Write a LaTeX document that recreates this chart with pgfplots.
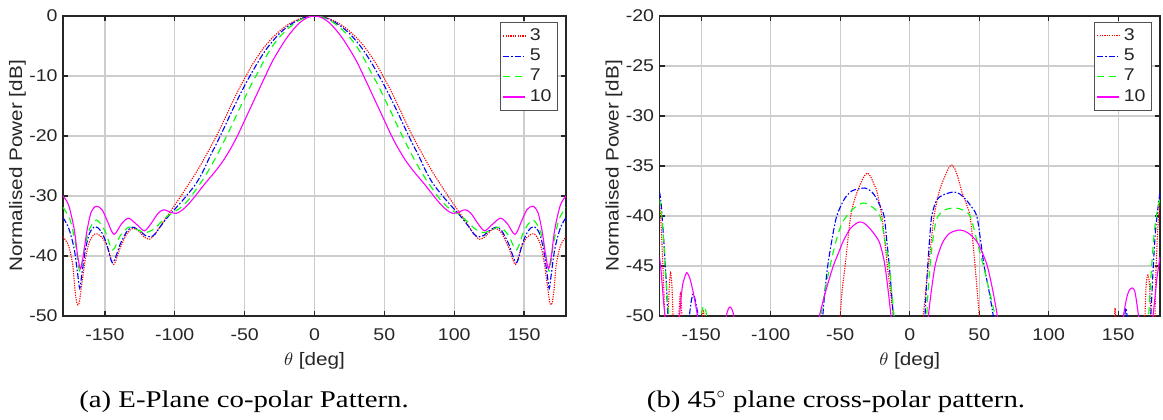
\documentclass[border=0pt]{standalone}
\usepackage{pgfplots}
\pgfplotsset{compat=1.18}
\usepackage{fontspec}
\setmainfont{Liberation Serif}
\newfontfamily\chartfont{Liberation Sans}[FakeStretch=1.15]
\newfontfamily\capfontfam{Liberation Serif}[FakeStretch=1.2]
\newcommand\tickfont{\chartfont\fontsize{8.5pt}{10pt}\selectfont}
\newcommand\labfont{\chartfont\fontsize{9pt}{10.5pt}\selectfont}
\newcommand\capfont{\capfontfam\fontsize{12pt}{14pt}\selectfont}
\definecolor{axgray}{RGB}{38,38,38}
\definecolor{gridgray}{RGB}{205,205,205}
\definecolor{mred}{RGB}{255,0,0}
\definecolor{mblue}{RGB}{0,0,255}
\definecolor{mgreen}{RGB}{0,255,0}
\definecolor{mmag}{RGB}{255,0,255}
\pgfplotsset{
  mstyle/.style={
    scale only axis, width=251.5pt, height=150pt,
    xmin=-180, xmax=180,
    xtick={-150,-100,-50,0,50,100,150},
    xticklabels={-150,-100,-50,0,50,100,150},
    grid=major,
    major grid style={gridgray, line width=0.7pt},
    axis line style={axgray, line width=0.6pt},
    tick style={axgray, line width=0.6pt},
    tick align=inside, major tick length=2.5pt,
    xtick pos=both, ytick pos=both,
    xticklabel style={font=\tickfont, text=axgray, anchor=north, inner sep=0pt, yshift=-6pt},
    yticklabel style={font=\tickfont, text=axgray, anchor=east, inner sep=0pt, xshift=-2.5pt},
    every axis x label/.style={at={([yshift=-22.5pt]axis description cs:0.5,0)}, anchor=center, font=\labfont, text=axgray},
    every axis y label/.style={at={([xshift=-22.75pt]axis description cs:0,0.5)}, anchor=center, rotate=90, font=\labfont, text=axgray},
    xlabel={$\theta$ [deg]},
    ylabel={Normalised Power [dB]},
    legend style={at={([xshift=-4pt,yshift=-3pt]axis description cs:1,1)}, anchor=north east,
      draw=axgray!80, fill=white, font=\tickfont, text=axgray, line width=0.5pt,
      inner xsep=1pt, inner ysep=1pt, row sep=-1.2pt,
      legend cell align=left},
    legend image code/.code={\draw[#1] (0pt,0pt) -- (11pt,0pt);},
    unbounded coords=jump,
  },
  s3/.style={mred, line width=0.55pt, dash pattern=on 0.6pt off 0.6pt},
  s5/.style={mblue, line width=0.55pt, dash pattern=on 3pt off 1pt on 0.8pt off 1pt},
  s7/.style={mgreen, line width=0.55pt, dash pattern=on 3.5pt off 2.5pt},
  s10/.style={mmag, line width=0.55pt},
}
\begin{document}
\begin{tikzpicture}
\useasboundingbox (0,0) rectangle (581.5pt,209.5pt);
% ---------------- (a) ----------------
\begin{axis}[mstyle, at={(31.5pt,51.5pt)}, anchor=south west,
  ymin=-50, ymax=0, ytick={-50,-40,-30,-20,-10,0},
  yticklabels={-50,-40,-30,-20,-10,0}]
\addplot[s3, smooth] coordinates {
(-180,-36.8) (-176,-38.3) (-173,-41.5) (-171.5,-45.5) (-170,-47.9) (-168.5,-47.9) (-167,-45.5) (-164,-40.5) (-161,-37.6) (-157,-36.3) (-152,-36.9) (-148,-38.6) (-143.8,-41.4) (-139,-38.6) (-134,-36.2) (-130,-35.4) (-126,-35.8) (-122,-36.8) (-118,-37.2) (-114,-36.3) (-110,-34.9) (-105,-33.2) (-100,-31.5) (-95,-29.8) (-90,-28.0) (-85,-26.2) (-80,-24.2) (-75,-22.1) (-70,-19.9) (-65,-17.5) (-60,-15.0) (-55,-12.6) (-50,-10.4) (-45,-8.3) (-40,-6.5) (-35,-4.9) (-30,-3.6) (-25,-2.5) (-20,-1.6) (-15,-0.9) (-10,-0.4) (-5,-0.1)
(0,0)
(5,-0.1) (10,-0.4) (15,-0.9) (20,-1.6) (25,-2.5) (30,-3.6) (35,-4.9) (40,-6.5) (45,-8.3) (50,-10.4) (55,-12.6) (60,-15.0) (65,-17.5) (70,-19.9) (75,-22.1) (80,-24.2) (85,-26.2) (90,-28.0) (95,-29.8) (100,-31.5) (105,-33.2) (110,-34.9) (114,-36.3) (118,-37.2) (122,-36.8) (126,-35.8) (130,-35.4) (134,-36.2) (139,-38.6) (143.8,-41.4) (148,-38.6) (152,-36.9) (157,-36.3) (161,-37.6) (164,-40.5) (167,-45.5) (168.5,-47.9) (170,-47.9) (171.5,-45.5) (173,-41.5) (176,-38.3) (180,-36.8)
};
\addlegendentry{3}
\addplot[s5, smooth] coordinates {
(-180,-33.6) (-176,-35.3) (-172,-38.8) (-169.5,-43) (-168,-45.4) (-166.5,-43) (-164,-39.0) (-161,-36.2) (-157,-35.1) (-153,-35.8) (-149,-37.8) (-144.5,-41.1) (-139,-38.0) (-134,-35.8) (-130,-35.2) (-125,-35.8) (-121,-36.6) (-117,-36.8) (-114,-36.3) (-110,-35.0) (-105,-33.5) (-100,-32.2) (-95,-30.9) (-90,-29.5) (-85,-28.0) (-80,-26.0) (-75,-23.5) (-70,-21.2) (-65,-18.8) (-60,-16.3) (-55,-13.9) (-50,-11.6) (-45,-9.5) (-40,-7.5) (-35,-5.7) (-30,-4.2) (-25,-2.9) (-20,-1.9) (-15,-1.1) (-10,-0.5) (-5,-0.12)
(0,0)
(5,-0.12) (10,-0.5) (15,-1.1) (20,-1.9) (25,-2.9) (30,-4.2) (35,-5.7) (40,-7.5) (45,-9.5) (50,-11.6) (55,-13.9) (60,-16.3) (65,-18.8) (70,-21.2) (75,-23.5) (80,-26.0) (85,-28.0) (90,-29.5) (95,-30.9) (100,-32.2) (105,-33.5) (110,-35.0) (114,-36.3) (117,-36.8) (121,-36.6) (125,-35.8) (130,-35.2) (134,-35.8) (139,-38.0) (144.5,-41.1) (149,-37.8) (153,-35.8) (157,-35.1) (161,-36.2) (164,-39.0) (166.5,-43) (168,-45.4) (169.5,-43) (172,-38.8) (176,-35.3) (180,-33.6)
};
\addlegendentry{5}
\addplot[s7, smooth] coordinates {
(-180,-31.9) (-175,-33.9) (-171,-38) (-168,-42.5) (-164.5,-38.5) (-161,-35.5) (-156,-34.0) (-150,-35.8) (-144.5,-39.0) (-139,-36.6) (-133,-35.2) (-127,-35.6) (-121,-36.1) (-115,-35.5) (-110,-34.4) (-105,-33.3) (-100,-32.6) (-95,-31.8) (-90,-30.6) (-85,-29.0) (-80,-27.3) (-75,-25.4) (-70,-23.3) (-65,-21.0) (-60,-18.6) (-55,-16.1) (-50,-13.7) (-45,-11.3) (-40,-9.2) (-35,-6.9) (-30,-5.0) (-25,-3.5) (-20,-2.3) (-15,-1.35) (-10,-0.6) (-5,-0.15)
(0,0)
(5,-0.15) (10,-0.6) (15,-1.35) (20,-2.3) (25,-3.5) (30,-5.0) (35,-6.9) (40,-9.2) (45,-11.3) (50,-13.7) (55,-16.1) (60,-18.6) (65,-21.0) (70,-23.3) (75,-25.4) (80,-27.3) (85,-29.0) (90,-30.6) (95,-31.8) (100,-32.6) (105,-33.3) (110,-34.4) (115,-35.5) (121,-36.1) (127,-35.6) (133,-35.2) (139,-36.6) (144.5,-39.0) (150,-35.8) (156,-34.0) (161,-35.5) (164.5,-38.5) (168,-42.5) (171,-38) (175,-33.9) (180,-31.9)
};
\addlegendentry{7}
\addplot[s10, smooth] coordinates {
(-180,-30.0) (-176,-31.5) (-172,-35.5) (-169.5,-40) (-167.5,-42.1) (-165.5,-40) (-163,-36) (-160,-32.8) (-156.3,-31.7) (-152,-32.3) (-148,-34.3) (-143.5,-36.4) (-138,-34.6) (-133,-33.7) (-127,-34.8) (-121.7,-35.8) (-117,-34.6) (-112,-32.9) (-108,-32.3) (-103,-32.7) (-99,-32.9) (-95,-32.4) (-90,-31.3) (-85,-29.9) (-80,-28.4) (-75,-27.0) (-70,-25.6) (-65,-24.0) (-60,-22.1) (-55,-19.9) (-50,-17.4) (-45,-14.9) (-40,-12.4) (-35,-9.9) (-30,-7.5) (-25,-5.5) (-20,-3.7) (-15,-2.2) (-10,-1.0) (-5,-0.25)
(0,0)
(5,-0.25) (10,-1.0) (15,-2.2) (20,-3.7) (25,-5.5) (30,-7.5) (35,-9.9) (40,-12.4) (45,-14.9) (50,-17.4) (55,-19.9) (60,-22.1) (65,-24.0) (70,-25.6) (75,-27.0) (80,-28.4) (85,-29.9) (90,-31.3) (95,-32.4) (99,-32.9) (103,-32.7) (108,-32.3) (112,-32.9) (117,-34.6) (121.7,-35.8) (127,-34.8) (133,-33.7) (138,-34.6) (143.5,-36.4) (148,-34.3) (152,-32.3) (156.3,-31.7) (160,-32.8) (163,-36) (165.5,-40) (167.5,-42.1) (169.5,-40) (172,-35.5) (176,-31.5) (180,-30.0)
};
\addlegendentry{10}
\end{axis}
% ---------------- (b) ----------------
\begin{axis}[mstyle, at={(329.75pt,51.5pt)}, anchor=south west, width=250.25pt,
  ymin=-50, ymax=-20, ytick={-50,-45,-40,-35,-30,-25,-20},
  yticklabels={-50,-45,-40,-35,-30,-25,-20}]
\addplot[s3, smooth] coordinates {
(-180,-38.7) (-179,-40.5) (-178,-43.5) (-177,-47) (-176,-51)
(-175,nan)
(-174,-51) (-173,-47.2) (-172,-45.7) (-171,-47.2) (-170,-51)
(-168,nan)
(-166.5,-51) (-165,-47.8) (-163.5,-51)
(-155,nan)
(-150,-51) (-148.5,-49.5) (-147,-51)
(-100,nan)
(-51,-52) (-50,-50) (-48.5,-47.3) (-46.5,-45) (-44.5,-42.4) (-42.5,-40) (-40,-38.5) (-37,-37.3) (-33.5,-36.2) (-30.5,-35.7) (-28,-36.1) (-25.5,-36.9) (-23.7,-37.5) (-20.1,-40) (-18,-42.5) (-16.1,-45) (-14,-47.5) (-11.8,-50) (-11,-52)
(0,nan)
(9,-52) (9.8,-50) (11.5,-47.5) (13.4,-45) (15.5,-42.5) (17.5,-40) (21.3,-37.5) (25.4,-36) (28,-35.2) (30.2,-34.9) (32.5,-35.3) (35,-36.3) (37.5,-37.6) (40,-38.5) (42,-39.3) (43.4,-40) (45,-42) (47,-45) (48.5,-47.5) (50,-50) (50.6,-52)
(100,nan)
(147,-51) (147.7,-49.2) (148.5,-51)
(160,nan)
(169,-51) (170,-47) (171.3,-45.9) (172.5,-47) (173.5,-51)
(175,nan)
(176.3,-51) (177,-46) (178.5,-41) (180,-38.6)
};
\addlegendentry{3}
\addplot[s5, smooth] coordinates {
(-180,-37.6) (-179,-38.5) (-178,-40.3) (-177,-42.3) (-176,-44.5) (-175,-47) (-174,-50) (-173.5,-51)
(-165,nan)
(-158.8,-51) (-158.5,-50) (-157,-48.4) (-155.7,-47.8) (-154,-48.6) (-152.2,-50) (-151.8,-51)
(-100,nan)
(-63.5,-51) (-62.6,-50) (-61,-47.5) (-59,-45) (-56,-42.4) (-52.5,-40) (-47,-38.3) (-41.7,-37.5) (-37,-37.3) (-32.2,-37.2) (-28,-37.5) (-25,-38) (-22,-38.8) (-18.5,-40) (-16.5,-42.5) (-14.7,-45) (-13.2,-47.5) (-11.8,-50) (-11.3,-51)
(0,nan)
(10.5,-51) (11,-50) (11.8,-47.5) (12.9,-45) (14.2,-42.5) (15.8,-40) (19.4,-38.4) (24,-37.9) (28,-37.7) (31.9,-37.6) (36,-37.8) (40,-38.3) (44,-39) (48.2,-40) (51,-42.5) (53.5,-45) (57,-47.5) (60.1,-50) (61,-51)
(100,nan)
(154,-51) (155.5,-49.2) (157,-51)
(165,nan)
(172.8,-51) (173.4,-50) (175,-45.5) (176.5,-42) (178,-39.8) (180,-37.6)
};
\addlegendentry{5}
\addplot[s7, smooth] coordinates {
(-180,-38.3) (-179,-39.2) (-178,-40.5) (-177,-42.5) (-176,-44.7) (-175,-47) (-174,-49) (-173,-51)
(-160,nan)
(-150.5,-51) (-149.5,-49.5) (-148,-49) (-146.5,-49.6) (-145.8,-51)
(-100,nan)
(-65,-51) (-64,-50) (-61,-47.5) (-57.3,-45) (-53,-42.5) (-49,-40.8) (-45.3,-40) (-40,-39.2) (-33.4,-38.7) (-27,-39.1) (-21.4,-40) (-17.8,-42.5) (-14.7,-45) (-13,-47.5) (-11.3,-50) (-10.8,-51)
(0,nan)
(11.5,-51) (12.2,-50) (13.2,-47.5) (14.6,-45) (16.5,-42.5) (19.4,-40.3) (25,-39.4) (32.6,-39.2) (38,-39.4) (43.4,-40) (48,-42.3) (53,-45) (57.3,-47.5) (61.4,-50) (62,-51)
(100,nan)
(171,-51) (171.8,-50) (174,-45) (176,-41.5) (178,-39.5) (180,-38.3)
};
\addlegendentry{7}
\addplot[s10, smooth] coordinates {
(-180,-44.1) (-179,-45.3) (-178,-47) (-177,-48.7) (-176,-50) (-175.5,-51)
(-170,nan)
(-166,-51) (-165.6,-50) (-163.5,-47) (-161,-45.8) (-160,-45.7) (-158,-46.3) (-155.5,-47.8) (-153.5,-49.3) (-152.7,-50) (-152.3,-51)
(-140,nan)
(-132.5,-51) (-132,-50) (-130.5,-49.3) (-129.3,-49.1) (-128,-49.3) (-126.5,-50) (-126,-51)
(-100,nan)
(-66,-51) (-65,-50) (-60,-47.3) (-55,-45) (-51,-43.6) (-47.8,-42.5) (-43,-41.3) (-39,-40.8) (-36.3,-40.6) (-33,-40.7) (-29,-41.2) (-25,-41.9) (-21.9,-42.6) (-19.5,-43.8) (-17.8,-45) (-15.5,-47.5) (-13.5,-50) (-13,-51)
(0,nan)
(12.8,-51) (13.4,-50) (15.5,-47.5) (18.2,-45) (21,-43.6) (24.2,-42.5) (29,-41.7) (36.2,-41.4) (42,-41.7) (48,-42.5) (52,-43.6) (55.8,-45) (59.5,-47.3) (63,-50) (63.5,-51)
(100,nan)
(153.2,-51) (153.7,-50) (156,-48.2) (158,-47.4) (160.2,-47.2) (162,-47.6) (163.8,-49.2) (164.5,-50) (165,-51)
(170,nan)
(174.5,-51) (175,-50) (176.5,-48) (178,-46) (180,-44.1)
};
\addlegendentry{10}
\end{axis}
\node[font=\capfont, anchor=base] at (122pt,6pt) {(a) E-Plane co-polar Pattern.};
\node[font=\capfont, anchor=base] at (418pt,6pt) {(b) 45$^\circ$ plane cross-polar pattern.};
\end{tikzpicture}
\end{document}
